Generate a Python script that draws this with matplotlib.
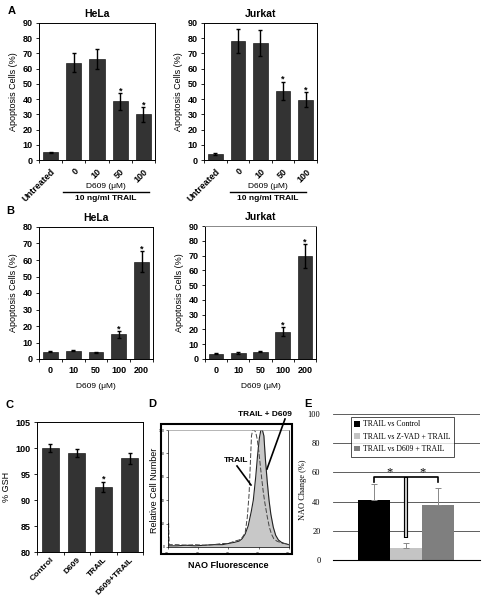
import numpy as np
import matplotlib
matplotlib.use('Agg')
import matplotlib.pyplot as plt
from matplotlib.lines import Line2D
from matplotlib.patches import Rectangle

plt.rcParams['font.family'] = ['Liberation Sans', 'DejaVu Sans']

W, H = 485, 599

# ---- data ----
a_labels = ['Untreated', '0', '10', '50', '100']
a_hela = [5, 64, 66.5, 38.5, 30]
a_hela_err = [0.5, 6, 6.5, 5.5, 4.8]
a_jurkat = [4, 78, 77, 45.5, 39.5]
a_jurkat_err = [0.5, 8, 8.5, 6, 5]
a_star = [False, False, False, True, True]

b_labels = ['0', '10', '50', '100', '200']
b_hela = [4.5, 5, 4, 15, 59]
b_hela_err = [0.4, 0.4, 0.3, 2, 6.5]
b_jurkat = [3.5, 4, 5, 18.5, 69.5]
b_jurkat_err = [0.4, 0.4, 0.5, 3, 8]
b_star = [False, False, False, True, True]

c_labels = ['Control', 'D609', 'TRAIL', 'D609+TRAIL']
c_gsh = [100, 99, 92.5, 98]
c_gsh_err = [0.7, 0.8, 1.0, 1.0]
c_star = [False, False, True, False]

# flow histogram (log10 fluorescence, relative count)
trail_x = [0.0, 0.02, 0.04, 0.3, 0.6, 0.9, 1.2, 1.5, 1.8, 2.0, 2.2, 2.35, 2.45, 2.55, 2.62,
           2.68, 2.72, 2.76, 2.8, 2.85, 2.9, 2.95, 3.0, 3.05, 3.1, 3.15, 3.2, 3.28, 3.35,
           3.42, 3.5, 3.6, 3.7, 3.8, 3.9, 4.0]
trail_y = [0.02, 0.2, 0.02, 0.02, 0.015, 0.02, 0.015, 0.02, 0.03, 0.03, 0.05, 0.06, 0.08,
           0.12, 0.25, 0.45, 0.7, 0.95, 1.0, 1.0, 0.98, 0.92, 0.82, 0.7, 0.58, 0.47, 0.38,
           0.26, 0.17, 0.11, 0.07, 0.05, 0.04, 0.03, 0.03, 0.02]
d609_x = [0.0, 0.3, 0.6, 0.9, 1.2, 1.5, 1.8, 2.0, 2.2, 2.35, 2.45, 2.55, 2.65, 2.75, 2.82,
          2.9, 2.96, 3.02, 3.07, 3.12, 3.17, 3.22, 3.28, 3.34, 3.4, 3.48, 3.56, 3.65, 3.75,
          3.85, 4.0]
d609_y = [0.01, 0.01, 0.015, 0.01, 0.015, 0.02, 0.02, 0.03, 0.04, 0.05, 0.07, 0.11, 0.18,
          0.3, 0.4, 0.6, 0.78, 0.93, 1.0, 1.0, 0.95, 0.75, 0.56, 0.4, 0.28, 0.17, 0.1, 0.06,
          0.04, 0.03, 0.02]

e_labels = ['TRAIL vs Control', 'TRAIL vs Z-VAD + TRAIL', 'TRAIL vs D609 + TRAIL']
e_nao = [41, 8, 38]
e_nao_err = [11, 3.5, 11]
e_colors = ['black', '#c4c4c4', '#7f7f7f']

BAR = '#333333'


def fx(px):
    return px / W


def fy(py):
    return 1 - py / H


def box(l, t, r, b):
    return [fx(l), fy(b), fx(r) - fx(l), (b - t) / H]


def bar_panel(ax, labels, vals, errs, stars, ymax, title, rot):
    x = np.arange(len(vals))
    ax.bar(x, vals, width=0.65, color=BAR, edgecolor='black', linewidth=0.4)
    ax.errorbar(x, vals, yerr=errs, fmt='none', ecolor='black', elinewidth=1, capsize=1.2)
    for i in range(len(vals)):
        if stars[i]:
            ax.text(x[i], vals[i] + errs[i] - 1.5, '*', ha='center', va='bottom',
                    fontsize=6.5, fontweight='bold')
    ax.set_xlim(-0.5, len(vals) - 0.5)
    ax.set_ylim(0, ymax)
    ax.set_yticks(np.arange(0, ymax + 1, 10))
    ax.set_xticks(x)
    ax.set_xticks(np.arange(len(vals) + 1) - 0.5, minor=True)
    if rot:
        ax.set_xticklabels(labels, rotation=45, ha='right', rotation_mode='anchor',
                           fontsize=6.5, fontweight='bold')
    else:
        ax.set_xticklabels(labels, fontsize=6.5, fontweight='bold')
    ax.tick_params(axis='x', which='major', length=0, pad=5)
    ax.tick_params(axis='x', which='minor', length=2.5, width=0.6)
    ax.tick_params(axis='y', length=2.5, width=0.6, labelsize=6.5, pad=2)
    for lab in ax.get_yticklabels():
        lab.set_fontweight('bold')
    for s in ax.spines.values():
        s.set_linewidth(0.7)
    ax.set_ylabel('Apoptosis Cells (%)', fontsize=6.5, labelpad=3)
    ax.set_title(title, fontsize=7.5, fontweight='bold', pad=4)


fig = plt.figure(figsize=(W / 100, H / 100), dpi=100)

# ---- panel A ----
axA1 = fig.add_axes(box(39, 23, 155, 160))
bar_panel(axA1, a_labels, a_hela, a_hela_err, a_star, 90, 'HeLa', True)
axA2 = fig.add_axes(box(204, 23, 317, 160))
bar_panel(axA2, a_labels, a_jurkat, a_jurkat_err, a_star, 90, 'Jurkat', True)

for cx, l, r in [(106, 63, 149), (268, 230, 306)]:
    fig.text(fx(cx), fy(186), 'D609 (\u03bcM)', ha='center', va='center', fontsize=6)
    fig.add_artist(Line2D([fx(l), fx(r)], [fy(192), fy(192)], color='black', lw=1))
    fig.text(fx(cx), fy(198.5), '10 ng/ml TRAIL', ha='center', va='center', fontsize=6,
             fontweight='bold')

# ---- panel B ----
axB1 = fig.add_axes(box(39, 227, 153, 359))
bar_panel(axB1, b_labels, b_hela, b_hela_err, b_star, 80, 'HeLa', False)
axB2 = fig.add_axes(box(205, 226, 316, 359))
bar_panel(axB2, b_labels, b_jurkat, b_jurkat_err, b_star, 90, 'Jurkat', False)
axB2.spines['top'].set_color('#888888')
for ax in (axB1, axB2):
    ax.set_xlabel('D609 (\u03bcM)', fontsize=6, labelpad=6)

# ---- panel C ----
axC = fig.add_axes(box(37, 422, 143, 552))
xc = np.arange(len(c_gsh))
axC.bar(xc, c_gsh, width=0.65, color=BAR, edgecolor='black', linewidth=0.4)
axC.errorbar(xc, c_gsh, yerr=c_gsh_err, fmt='none', ecolor='black', elinewidth=1, capsize=1.2)
for i in range(len(c_gsh)):
    if c_star[i]:
        axC.text(xc[i], c_gsh[i] + c_gsh_err[i] - 0.4, '*', ha='center', va='bottom',
                 fontsize=6.5, fontweight='bold')
axC.set_xlim(-0.5, len(c_gsh) - 0.5)
axC.set_ylim(80, 105)
axC.set_yticks(np.arange(80, 106, 5))
axC.set_xticks(xc)
axC.set_xticks(np.arange(len(c_gsh) + 1) - 0.5, minor=True)
axC.set_xticklabels(c_labels, rotation=45, ha='right', rotation_mode='anchor',
                    fontsize=6, fontweight='bold')
axC.tick_params(axis='x', which='major', length=0, pad=3)
axC.tick_params(axis='x', which='minor', length=2.5, width=0.6)
axC.tick_params(axis='y', length=2.5, width=0.6, labelsize=6.5, pad=2)
for lab in axC.get_yticklabels():
    lab.set_fontweight('bold')
for s in axC.spines.values():
    s.set_linewidth(0.7)
axC.set_ylabel('% GSH', fontsize=6.5, labelpad=3)

# ---- panel D ----
axD = fig.add_axes(box(168, 430, 289, 547))
axD.fill_between(d609_x, d609_y, color='#c8c8c8', lw=0)
axD.plot(d609_x, d609_y, color='#222222', lw=0.8)
axD.plot(trail_x, trail_y, color='#444444', lw=0.7, ls=(0, (5, 2)))
axD.set_xlim(0, 4)
axD.set_ylim(0, 1)
axD.set_xticks([0, 1, 2, 3, 4])
axD.set_xticklabels(['10$^0$', '10$^1$', '10$^2$', '10$^3$', '10$^4$'], fontsize=2.5)
axD.set_yticks([0, 0.2, 0.4, 0.6, 0.8, 1.0])
axD.set_yticklabels(['0', '20', '40', '60', '80', '100'], fontsize=2.5)
axD.tick_params(length=1.5, width=0.4, pad=1)
for s in axD.spines.values():
    s.set_linewidth(0.5)
axD.spines['top'].set_color('#999999')
fig.add_artist(Rectangle((fx(161), fy(554)), fx(292) - fx(161), (554 - 424) / H,
                         transform=fig.transFigure, fill=False, lw=1.5, ec='black'))
fig.text(fx(155), fy(490), 'Relative Cell Number', rotation=90, ha='center', va='center',
         fontsize=6.5)
fig.text(fx(228), fy(566), 'NAO Fluorescence', ha='center', va='center', fontsize=6.5,
         fontweight='bold')
fig.text(fx(265), fy(414), 'TRAIL + D609', ha='center', va='center', fontsize=6,
         fontweight='bold')
fig.add_artist(Line2D([fx(285), fx(267)], [fy(419), fy(469)], color='black', lw=1.2))
fig.text(fx(236), fy(461), 'TRAIL', ha='center', va='center', fontsize=6, fontweight='bold')
fig.add_artist(Line2D([fx(237), fx(251)], [fy(466), fy(485)], color='black', lw=1.2))

# ---- panel E ----
axE = fig.add_axes(box(333, 414, 480, 560))
xe = np.arange(len(e_nao))
for i in range(len(e_nao)):
    axE.bar(xe[i], e_nao[i], width=1.0, color=e_colors[i], label=e_labels[i], zorder=2)
axE.errorbar(xe, e_nao, yerr=[[0, 0, 0], e_nao_err], fmt='none', ecolor='#888888',
             elinewidth=0.7, capsize=2, capthick=0.7, zorder=3)
axE.set_xlim(-1.28, 3.31)
axE.set_ylim(0, 100)
axE.set_yticks(np.arange(0, 101, 20))
axE.set_yticklabels([str(v) for v in range(0, 101, 20)], family='Liberation Serif',
                    fontsize=6)
axE.yaxis.grid(True, color='#444444', lw=0.6, zorder=0)
axE.set_axisbelow(True)
axE.set_xticks([])
axE.tick_params(axis='y', length=0, pad=9)
for s in ['top', 'right', 'left']:
    axE.spines[s].set_visible(False)
axE.spines['bottom'].set_linewidth(0.8)
fig.text(fx(303), fy(490), 'NAO Change (%)', rotation=90, ha='center', va='center',
         fontsize=6, family='Liberation Serif')
# significance bracket
axE.plot([0, 0, 2, 2], [53.5, 57, 57, 53.5], color='black', lw=1.2, zorder=4)
axE.plot([1, 1], [15, 57], color='black', lw=3, zorder=4, solid_capstyle='butt')
axE.plot([1, 1], [15.8, 56.2], color='white', lw=1.1, zorder=5, solid_capstyle='butt')
axE.text(0.5, 60, '*', ha='center', va='center', fontsize=9, family='Liberation Serif')
axE.text(1.5, 60, '*', ha='center', va='center', fontsize=9, family='Liberation Serif')
leg = axE.legend(loc='upper left', bbox_to_anchor=((351 - 333) / 147, 1 - (417 - 414) / 146),
                 prop={'family': 'Liberation Serif', 'size': 5.6}, frameon=True,
                 fancybox=False, handlelength=0.7, handleheight=0.7, handletextpad=0.4,
                 borderpad=0.45, labelspacing=0.55, borderaxespad=0)
leg.get_frame().set_edgecolor('black')
leg.get_frame().set_linewidth(0.6)

# panel letters
for letter, px, py in [('A', 12, 11), ('B', 10, 211), ('C', 10, 405), ('D', 152, 404),
                       ('E', 308, 404)]:
    fig.text(fx(px), fy(py), letter, ha='center', va='center', fontsize=8, fontweight='bold')

fig.savefig('out.png', dpi=100)
